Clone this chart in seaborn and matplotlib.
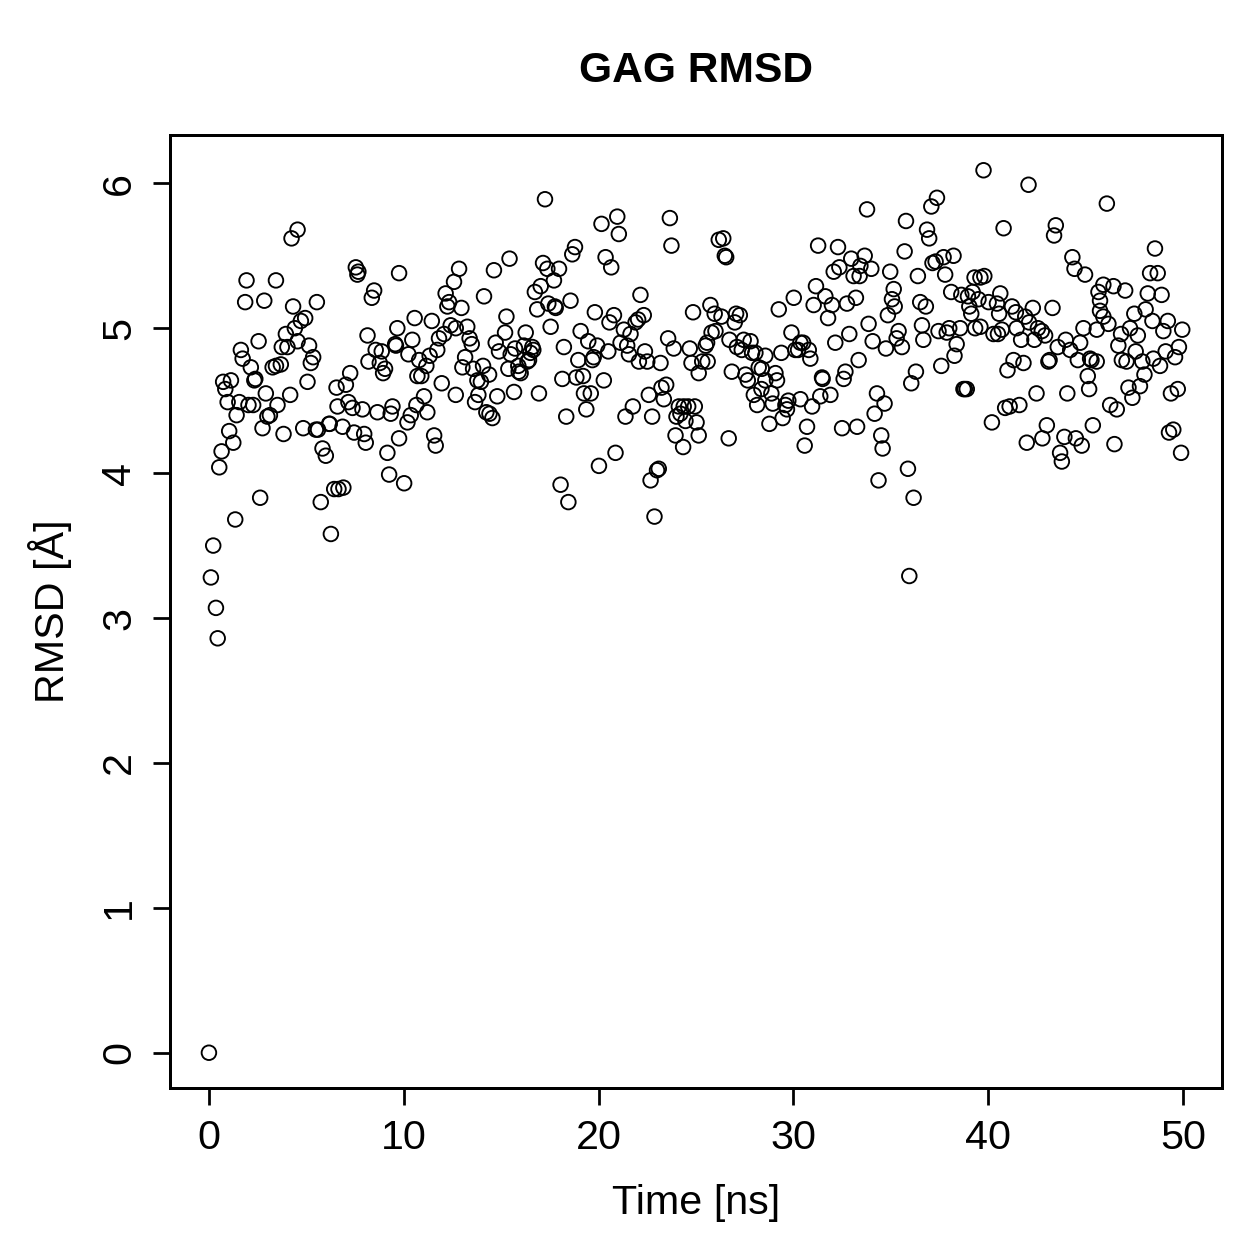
import numpy as np
import matplotlib
matplotlib.use("Agg")
import matplotlib.pyplot as plt
import seaborn as sns

# GAG RMSD trajectory
time_ns = [
    0.0, 0.10, 0.22, 0.36, 0.45, 0.53, 0.65, 0.73, 0.84, 0.96, 1.04, 1.13, 1.25, 1.35, 1.42, 1.56,
    1.64, 1.73, 1.86, 1.93, 2.03, 2.15, 2.27, 2.33, 2.38, 2.55, 2.63, 2.75, 2.84, 2.92, 3.00, 3.13,
    3.27, 3.44, 3.44, 3.52, 3.69, 3.74, 3.83, 3.95, 4.03, 4.17, 4.24, 4.32, 4.41, 4.55, 4.55, 4.72,
    4.84, 4.94, 5.06, 5.14, 5.23, 5.35, 5.49, 5.54, 5.60, 5.74, 5.83, 6.00, 6.17, 6.20, 6.26, 6.43,
    6.55, 6.60, 6.65, 6.86, 6.90, 7.03, 7.16, 7.25, 7.37, 7.45, 7.54, 7.62, 7.67, 7.88, 7.97, 8.05,
    8.14, 8.19, 8.36, 8.48, 8.56, 8.65, 8.77, 8.87, 8.94, 9.04, 9.16, 9.25, 9.33, 9.42, 9.56, 9.60,
    9.67, 9.76, 9.76,
    10.02, 10.19, 10.24, 10.36, 10.44, 10.56, 10.65, 10.70, 10.79, 10.90, 11.04, 11.16, 11.21, 11.33,
    11.44, 11.56, 11.64, 11.72, 11.81, 11.95, 12.07, 12.15, 12.24, 12.33, 12.41, 12.58, 12.67, 12.67,
    12.84, 12.96, 13.01, 13.15, 13.26, 13.38, 13.49, 13.56, 13.66, 13.78, 13.83, 13.96, 14.07, 14.12,
    14.24, 14.38, 14.40, 14.55, 14.63, 14.72, 14.80, 14.89,
    15.20, 15.27, 15.37, 15.43, 15.49, 15.66, 15.71, 15.88, 15.90, 16.00, 16.17, 16.26, 16.35, 16.43,
    16.50, 16.60, 16.65, 16.73, 16.85, 16.94, 17.03, 17.15, 17.25, 17.37, 17.42, 17.54, 17.71, 17.76,
    17.80, 17.97, 18.05, 18.14, 18.22, 18.34, 18.45, 18.56, 18.65, 18.79, 18.86, 18.96, 19.08, 19.20,
    19.25, 19.37, 19.47, 19.60, 19.68, 19.75, 19.81, 19.93, 20.02,
    20.15, 20.27, 20.36, 20.50, 20.56, 20.65, 20.79, 20.87, 20.96, 21.04, 21.13, 21.30, 21.38, 21.47,
    21.56, 21.64, 21.76, 21.90, 22.03, 22.07, 22.15, 22.32, 22.38, 22.50, 22.58, 22.67, 22.75, 22.87,
    23.00, 23.09, 23.18, 23.23, 23.35, 23.47, 23.57, 23.66, 23.74, 23.86, 23.95, 24.00, 24.12, 24.20,
    24.34, 24.37, 24.46, 24.60, 24.68, 24.77, 24.85, 24.94, 25.03, 25.14, 25.14,
    25.32, 25.50, 25.57, 25.60, 25.74, 25.80, 25.96, 26.00, 26.17, 26.31, 26.40, 26.48, 26.55, 26.68,
    26.72, 26.84, 26.99, 27.06, 27.10, 27.25, 27.35, 27.45, 27.54, 27.66, 27.80, 27.88, 27.97, 28.05,
    28.14, 28.22, 28.36, 28.38, 28.56, 28.56, 28.77, 28.87, 28.94, 29.08, 29.16, 29.25, 29.38, 29.45,
    29.59, 29.67, 29.74, 29.90, 30.02, 30.10,
    30.24, 30.36, 30.36, 30.50, 30.58, 30.70, 30.79, 30.87, 30.96, 31.04, 31.16, 31.27, 31.38, 31.47,
    31.50, 31.64, 31.78, 31.90, 31.98, 32.07, 32.15, 32.29, 32.36, 32.50, 32.58, 32.67, 32.75, 32.87,
    32.97, 33.09, 33.21, 33.27, 33.35, 33.40, 33.44, 33.66, 33.78, 33.86, 34.00, 34.07, 34.17, 34.29,
    34.37, 34.51, 34.58, 34.68, 34.75, 34.85, 34.97, 35.06, 35.15, 35.20, 35.30, 35.40,
    35.57, 35.71, 35.78, 35.88, 35.95, 36.05, 36.17, 36.29, 36.39, 36.51, 36.60, 36.67, 36.80, 36.86,
    36.97, 37.08, 37.14, 37.30, 37.37, 37.45, 37.59, 37.71, 37.79, 37.87, 38.00, 38.10, 38.22, 38.27,
    38.38, 38.56, 38.62, 38.73, 38.80, 38.90, 38.96, 39.03, 39.13, 39.20, 39.30, 39.33, 39.50, 39.60,
    39.60, 39.76, 39.80, 40.02, 40.19, 40.27,
    40.45, 40.50, 40.56, 40.62, 40.70, 40.79, 40.87, 40.99, 41.10, 41.22, 41.30, 41.42, 41.46, 41.60,
    41.69, 41.81, 41.90, 41.98, 42.07, 42.10, 42.29, 42.37, 42.48, 42.55, 42.75, 42.78, 42.92, 43.01,
    43.09, 43.15, 43.30, 43.38, 43.47, 43.57, 43.69, 43.78, 43.91, 43.98, 44.06, 44.21, 44.32, 44.43,
    44.50, 44.60, 44.72, 44.80, 44.89, 44.97, 45.11, 45.18, 45.23, 45.30, 45.37,
    45.57, 45.57, 45.66, 45.74, 45.74, 45.91, 45.91, 46.09, 46.17, 46.26, 46.43, 46.48, 46.60, 46.68,
    46.82, 46.86, 47.03, 47.10, 47.20, 47.28, 47.40, 47.50, 47.57, 47.68, 47.79, 47.91, 48.02, 48.08,
    48.19, 48.31, 48.43, 48.48, 48.56, 48.70, 48.82, 48.90, 48.99, 49.11, 49.22, 49.28, 49.38, 49.50,
    49.59, 49.73, 49.79, 49.90, 49.96,
]

rmsd = [
    0.00, 3.28, 3.50, 3.07, 2.86, 4.04, 4.15, 4.63, 4.58, 4.49, 4.29, 4.64, 4.21, 3.68, 4.40, 4.49,
    4.85, 4.79, 5.18, 5.33, 4.47, 4.73, 4.47, 4.64, 4.65, 4.91, 3.83, 4.31, 5.19, 4.55, 4.39, 4.40,
    4.73, 5.33, 4.74, 4.47, 4.75, 4.87, 4.27, 4.96, 4.87, 4.54, 5.62, 5.15, 5.00, 5.68, 4.91, 5.05,
    4.31, 5.07, 4.63, 4.88, 4.76, 4.80, 4.30, 5.18, 4.30, 3.80, 4.17, 4.12, 4.34, 4.34, 3.58, 3.89,
    4.59, 4.46, 3.89, 4.32, 3.90, 4.61, 4.49, 4.69, 4.45, 4.28, 5.42, 5.37, 5.39, 4.44, 4.27, 4.21,
    4.95, 4.77, 5.21, 5.26, 4.85, 4.42, 4.76, 4.84, 4.69, 4.72, 4.14, 3.99, 4.41, 4.46, 4.89, 4.88,
    5.00, 5.38, 4.24,
    3.93, 4.35, 4.82, 4.40, 4.92, 5.07, 4.47, 4.67, 4.78, 4.67, 4.53, 4.74, 4.42, 4.81,
    5.05, 4.26, 4.19, 4.85, 4.93, 4.62, 4.96, 5.24, 5.15, 5.18, 5.02, 5.32, 5.00, 4.54,
    5.41, 5.14, 4.73, 4.80, 5.01, 4.93, 4.89, 4.72, 4.49, 4.64, 4.54, 4.63, 4.74, 5.22,
    4.42, 4.68, 4.41, 4.38, 5.40, 4.90, 4.53, 4.84,
    4.97, 5.08, 4.72, 5.48, 4.82, 4.56, 4.86, 4.74, 4.70, 4.69, 4.88, 4.97, 4.77, 4.78,
    4.83, 4.87, 4.85, 5.25, 5.13, 4.55, 5.29, 5.45, 5.89, 5.41, 5.17, 5.01, 5.33, 5.15,
    5.14, 5.41, 3.92, 4.65, 4.87, 4.39, 3.80, 5.19, 5.51, 5.56, 4.66, 4.78, 4.98, 4.67,
    4.55, 4.44, 4.91, 4.55, 4.78, 4.80, 5.11, 4.88, 4.05,
    5.72, 4.64, 5.49, 4.84, 5.04, 5.42, 5.09, 4.14, 5.77, 5.65, 4.90, 4.99, 4.39, 4.88,
    4.82, 4.96, 4.46, 5.04, 5.06, 4.77, 5.23, 5.09, 4.84, 4.77, 4.54, 3.95, 4.39, 3.70,
    4.02, 4.03, 4.76, 4.59, 4.51, 4.61, 4.93, 5.76, 5.57, 4.86, 4.26, 4.39, 4.46, 4.41,
    4.18, 4.46, 4.36, 4.46, 4.86, 4.76, 5.11, 4.46, 4.35, 4.69, 4.26,
    4.77, 4.88, 4.90, 4.77, 5.16, 4.97, 5.10, 4.98, 5.61, 5.08, 5.62, 5.50, 5.49, 4.24,
    4.92, 4.70, 5.04, 5.10, 4.87, 5.09, 4.85, 4.92, 4.68, 4.64, 4.91, 4.83, 4.54, 4.83,
    4.47, 4.73, 4.58, 4.72, 4.81, 4.64, 4.34, 4.55, 4.48, 4.69, 4.64, 5.13, 4.83, 4.38,
    4.47, 4.44, 4.50, 4.97, 5.21, 4.85,
    4.85, 4.90, 4.51, 4.90, 4.19, 4.32, 4.85, 4.79, 4.46, 5.16, 5.29, 5.57, 4.53, 4.66,
    4.65, 5.22, 5.07, 4.54, 5.16, 5.39, 4.90, 5.56, 5.42, 4.31, 4.65, 4.70, 5.17, 4.96,
    5.48, 5.36, 5.21, 4.32, 4.78, 5.36, 5.43, 5.50, 5.82, 5.03, 5.41, 4.91, 4.41, 4.55,
    3.95, 4.26, 4.17, 4.48, 4.86, 5.09, 5.39, 5.20, 5.27, 5.15, 4.93, 4.98,
    4.87, 5.53, 5.74, 4.03, 3.29, 4.62, 3.83, 4.70, 5.36, 5.18, 5.02, 4.92, 5.15, 5.68,
    5.62, 5.84, 5.45, 5.46, 5.90, 4.98, 4.74, 5.49, 5.37, 4.97, 5.00, 5.25, 5.50, 4.81,
    4.89, 5.00, 5.23, 4.58, 4.58, 4.58, 5.22, 5.15, 5.10, 5.25, 5.35, 5.00, 5.20, 5.35,
    5.01, 6.09, 5.36, 5.18, 4.35, 4.96,
    5.17, 4.96, 5.10, 5.24, 4.99, 5.69, 4.45, 4.71, 4.46, 5.15, 4.78, 5.11, 5.00, 4.47,
    4.92, 4.76, 5.08, 4.21, 5.99, 5.04, 5.14, 4.92, 4.55, 5.00, 4.98, 4.24, 4.95, 4.33,
    4.77, 4.78, 5.14, 5.64, 5.71, 4.87, 4.14, 4.08, 4.25, 4.92, 4.55, 4.85, 5.49, 5.41,
    4.24, 4.78, 4.90, 4.19, 5.00, 5.37, 4.67, 4.58, 4.79, 4.78, 4.33,
    4.99, 4.77, 5.25, 5.19, 5.12, 5.30, 5.08, 5.86, 5.03, 4.47, 5.29, 4.20, 4.44, 4.88,
    4.96, 4.78, 5.26, 4.77, 4.59, 5.00, 4.52, 5.10, 4.84, 4.95, 4.60, 4.77, 4.68, 5.13,
    5.24, 5.38, 5.05, 4.79, 5.55, 5.38, 4.74, 5.23, 4.98, 4.84, 5.05, 4.28, 4.55, 4.30,
    4.80, 4.58, 4.87, 4.14, 4.99,
]

x_ticks = [0, 10, 20, 30, 40, 50]
y_ticks = [0, 1, 2, 3, 4, 5, 6]

sns.set_style("ticks")
plt.rcParams['font.family'] = ['Liberation Sans', 'DejaVu Sans']
plt.rcParams['text.color'] = 'black'
plt.rcParams['axes.labelcolor'] = 'black'
plt.rcParams['xtick.color'] = 'black'
plt.rcParams['ytick.color'] = 'black'

fig = plt.figure(figsize=(1259 / 180, 1259 / 180), dpi=180)
ax = fig.add_axes([0.135, 0.1358, 0.8356, 0.757])

sns.scatterplot(x=time_ns, y=rmsd, marker='o', s=34, facecolor='none',
                edgecolor='black', linewidth=0.75, ax=ax)

ax.set_xlim(-2, 52)
ax.set_ylim(-0.2436, 6.3336)
ax.set_xticks(x_ticks)
ax.set_yticks(y_ticks)
ax.tick_params(axis='both', length=6.8, width=1.1, labelsize=16.5,
               color='black', labelcolor='black')
ax.tick_params(axis='x', pad=5.5)
ax.tick_params(axis='y', labelrotation=90, pad=6)
for lab in ax.get_yticklabels():
    lab.set_verticalalignment('center')

for sp in ax.spines.values():
    sp.set_linewidth(1.2)
    sp.set_color('black')

ax.set_xlabel('Time [ns]', fontsize=16.5, labelpad=11, color='black')
ax.set_ylabel('RMSD [Å]', fontsize=16.5, labelpad=11, color='black')
ax.set_title('GAG RMSD', fontsize=17, fontweight='bold', pad=21, color='black')

fig.savefig('out.png', dpi=180)
